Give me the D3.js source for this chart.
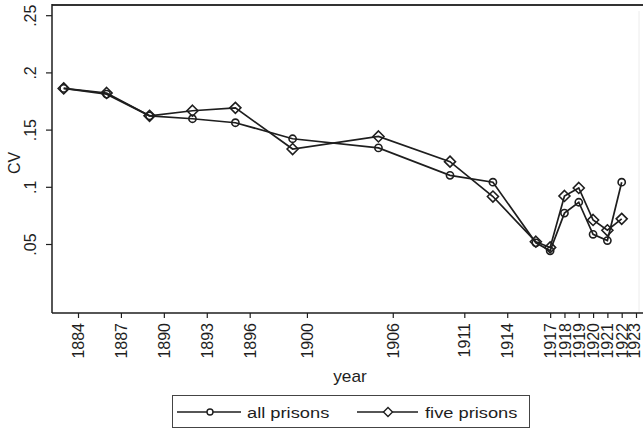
<!DOCTYPE html>
<html>
<head>
<meta charset="utf-8">
<script src="https://cdn.jsdelivr.net/npm/d3@7"></script>
<style>
  html, body { margin: 0; padding: 0; background: #fff; }
  svg { display: block; font-family: "Liberation Sans", Arial, sans-serif; }
</style>
</head>
<body>
<svg id="chart" width="643" height="431"></svg>
<script>
// Coefficient of variation by year
const years = [1883, 1886, 1889, 1892, 1895, 1899, 1905, 1910, 1913, 1916, 1917, 1918, 1919, 1920, 1921, 1922];
const allPrisons  = [0.186, 0.181, 0.162, 0.1595, 0.156, 0.142, 0.134, 0.110, 0.104, 0.051, 0.044, 0.077, 0.0865, 0.0585, 0.053, 0.104];
const fivePrisons = [0.186, 0.182, 0.162, 0.1665, 0.169, 0.133, 0.144, 0.122, 0.0915, 0.052, 0.047, 0.092, 0.099, 0.071, 0.062, 0.072];
const xTicks = [1884, 1887, 1890, 1893, 1896, 1900, 1906, 1911, 1914, 1917, 1918, 1919, 1920, 1921, 1922, 1923];
const yTicks = [0.05, 0.1, 0.15, 0.2, 0.25];
const yTickLabels = [".05", ".1", ".15", ".2", ".25"];
const seriesNames = ["all prisons", "five prisons"];

const ink = "#1e1e1e";
const svg = d3.select("#chart");

const plotLeft = 52, plotTop = 5, plotBottom = 313, plotRight = 643;
const x = d3.scaleLinear().domain([1884, 1923]).range([78, 636]);
const y = d3.scaleLinear().domain([0.05, 0.25]).range([244, 15.2]);

// frame: top rule and faint right edge
svg.append("line").attr("x1", plotLeft).attr("x2", plotRight).attr("y1", plotTop).attr("y2", plotTop)
  .attr("stroke", "#333").attr("stroke-width", 2);
svg.append("line").attr("x1", 639).attr("x2", 639).attr("y1", plotTop + 6).attr("y2", plotBottom)
  .attr("stroke", "#ececec").attr("stroke-width", 1);

// y axis
const yAxis = svg.append("g").attr("transform", `translate(${plotLeft},0)`)
  .call(d3.axisLeft(y).tickValues(yTicks).tickFormat((d, i) => yTickLabels[i]).tickSize(6).tickPadding(4));
yAxis.select(".domain").remove();
yAxis.selectAll(".tick line").attr("stroke", ink).attr("stroke-width", 1.2);
yAxis.selectAll(".tick text")
  .attr("fill", ink).attr("font-size", 16)
  .attr("text-anchor", "middle")
  .attr("transform", "rotate(-90)")
  .attr("x", 0).attr("y", -16).attr("dy", 0);
svg.append("line").attr("x1", plotLeft).attr("x2", plotLeft).attr("y1", plotTop - 1).attr("y2", plotBottom)
  .attr("stroke", ink).attr("stroke-width", 1.5);

// x axis
const xAxis = svg.append("g").attr("transform", `translate(0,${plotBottom})`)
  .call(d3.axisBottom(x).tickValues(xTicks).tickFormat(d3.format("d")).tickSize(5).tickPadding(4));
xAxis.select(".domain").remove();
xAxis.selectAll(".tick line").attr("stroke", ink).attr("stroke-width", 1.2);
xAxis.selectAll(".tick text")
  .attr("fill", ink).attr("font-size", 16)
  .attr("text-anchor", "end")
  .attr("transform", "rotate(-90)")
  .attr("x", -10)
  .attr("y", (d, i) => i === xTicks.length - 1 ? -2.5 : 0)   // keep the last label inside the canvas
  .attr("dy", "0.35em");
svg.append("line").attr("x1", plotLeft).attr("x2", plotRight).attr("y1", plotBottom).attr("y2", plotBottom)
  .attr("stroke", ink).attr("stroke-width", 1.5);

// axis titles
svg.append("text").attr("transform", "translate(350,382) scale(1.08,1)").attr("text-anchor", "middle")
  .attr("font-size", 16).attr("fill", ink).text("year");
svg.append("text").attr("transform", "translate(20,163) rotate(-90)").attr("text-anchor", "middle")
  .attr("font-size", 16).attr("fill", ink).text("CV");

// series
const line = d3.line().x(d => x(d[0])).y(d => y(d[1]));
const allPts = years.map((yr, i) => [yr, allPrisons[i]]);
const fivePts = years.map((yr, i) => [yr, fivePrisons[i]]);

const diamond = (cx, cy, r) => `M${cx},${cy - r}L${cx + r},${cy}L${cx},${cy + r}L${cx - r},${cy}Z`;

svg.append("path").datum(fivePts).attr("d", line)
  .attr("fill", "none").attr("stroke", ink).attr("stroke-width", 1.7);
svg.append("path").datum(allPts).attr("d", line)
  .attr("fill", "none").attr("stroke", ink).attr("stroke-width", 1.7);

svg.append("g").selectAll("path").data(fivePts).join("path")
  .attr("d", d => diamond(x(d[0]), y(d[1]), 5.5))
  .attr("fill", "none").attr("stroke", ink).attr("stroke-width", 1.6);
svg.append("g").selectAll("circle").data(allPts).join("circle")
  .attr("cx", d => x(d[0])).attr("cy", d => y(d[1])).attr("r", 3.6)
  .attr("fill", "none").attr("stroke", ink).attr("stroke-width", 1.6);

// legend
const lg = svg.append("g");
lg.append("rect").attr("x", 172.5).attr("y", 395.5).attr("width", 357).attr("height", 32)
  .attr("fill", "#fff").attr("stroke", "#444").attr("stroke-width", 1);
const ly = 412;
lg.append("line").attr("x1", 177).attr("x2", 241).attr("y1", ly).attr("y2", ly).attr("stroke", ink).attr("stroke-width", 1.6);
lg.append("circle").attr("cx", 210).attr("cy", ly).attr("r", 3).attr("fill", "#fff").attr("stroke", ink).attr("stroke-width", 1.4);
lg.append("text").attr("transform", `translate(247,${ly + 6}) scale(1.18,1)`)
  .attr("font-size", 15.5).attr("fill", ink).text(seriesNames[0]);
lg.append("line").attr("x1", 357).attr("x2", 418).attr("y1", ly).attr("y2", ly).attr("stroke", ink).attr("stroke-width", 1.6);
lg.append("path").attr("d", diamond(388, ly, 4.5)).attr("fill", "#fff").attr("stroke", ink).attr("stroke-width", 1.4);
lg.append("text").attr("transform", `translate(425,${ly + 6}) scale(1.18,1)`)
  .attr("font-size", 15.5).attr("fill", ink).text(seriesNames[1]);
</script>
</body>
</html>
